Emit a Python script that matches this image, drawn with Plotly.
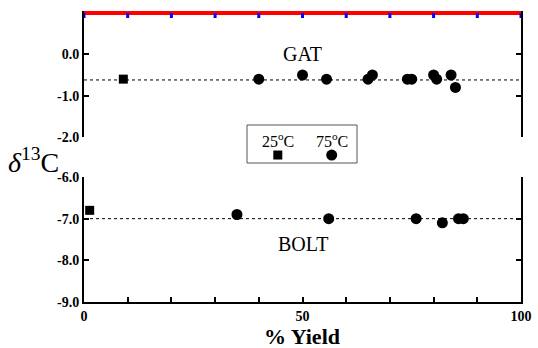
import plotly.graph_objects as go

# ---- data ----
gat_25_x = [9]
gat_25_y = [-0.6]
gat_75_x = [40, 50, 55.5, 65, 66, 74, 75, 80, 80.7, 84, 85]
gat_75_y = [-0.6, -0.5, -0.6, -0.6, -0.5, -0.6, -0.6, -0.5, -0.6, -0.5, -0.8]
gat_mean = -0.62

bolt_25_x = [1.3]
bolt_25_y = [-6.8]
bolt_75_x = [35, 56, 76, 82, 85.7, 86.8]
bolt_75_y = [-6.9, -7.0, -7.0, -7.1, -7.0, -7.0]
bolt_mean = -7.0

x_range = [0, 100]
x_tickvals = [0, 10, 20, 30, 40, 50, 60, 70, 80, 90, 100]
x_ticktext = ["0", "", "", "", "", "50", "", "", "", "", "100"]
top_ticktext = [""] * 11
gat_tickvals = [0, -1, -2]
gat_ticktext = ["0.0", "-1.0", "-2.0"]
bolt_tickvals = [-6, -7, -8, -9]
bolt_ticktext = ["-6.0", "-7.0", "-8.0", "-9.0"]

FONT = "Liberation Serif"
W, H = 538, 348

def px_x(p):
    return p / W

def px_y(p):
    return 1 - p / H

fig = go.Figure()

line_style = dict(color="black", width=1, dash="3px,3px")
sq = dict(symbol="square", size=9, color="black")
ci = dict(symbol="circle", size=11, color="black")

fig.add_trace(go.Scatter(x=x_range, y=[gat_mean, gat_mean], mode="lines", line=line_style,
                         xaxis="x", yaxis="y", showlegend=False, hoverinfo="skip"))
fig.add_trace(go.Scatter(x=gat_25_x, y=gat_25_y, mode="markers", marker=sq,
                         xaxis="x", yaxis="y", showlegend=False))
fig.add_trace(go.Scatter(x=gat_75_x, y=gat_75_y, mode="markers", marker=ci,
                         xaxis="x", yaxis="y", showlegend=False))
fig.add_trace(go.Scatter(x=x_range, y=[bolt_mean, bolt_mean], mode="lines", line=line_style,
                         xaxis="x2", yaxis="y2", showlegend=False, hoverinfo="skip"))
fig.add_trace(go.Scatter(x=bolt_25_x, y=bolt_25_y, mode="markers", marker=sq,
                         xaxis="x2", yaxis="y2", showlegend=False))
fig.add_trace(go.Scatter(x=bolt_75_x, y=bolt_75_y, mode="markers", marker=ci,
                         xaxis="x2", yaxis="y2", showlegend=False))
fig.add_trace(go.Scatter(x=[0.56], y=[0.42], mode="markers", marker=sq,
                         xaxis="x3", yaxis="y3", showlegend=False))
fig.add_trace(go.Scatter(x=[1.54], y=[0.42], mode="markers", marker=ci,
                         xaxis="x3", yaxis="y3", showlegend=False))

xdom = [px_x(84), px_x(521)]
tickfont = dict(family=FONT, size=14, color="black", weight="bold")
common_x = dict(range=x_range, domain=xdom, tickvals=x_tickvals,
                ticks="inside", ticklen=5, tickwidth=1.5, tickcolor="black", showline=True,
                linewidth=2, linecolor="black", showgrid=False, zeroline=False,
                tickfont=tickfont, automargin=False)
common_y = dict(ticks="inside", ticklen=5, tickwidth=1.5, tickcolor="black", showline=True,
                linewidth=2, linecolor="black", showgrid=False, zeroline=False, mirror="ticks",
                tickfont=tickfont, automargin=False)
blank = dict(range=[0, 2], showline=False, ticks="", showticklabels=False, showgrid=False,
             zeroline=False, automargin=False)

def ann(text, x, y, xref, yref, size):
    return dict(text=text, x=x, y=y, xref=xref, yref=yref, showarrow=False,
                xanchor="center", yanchor="middle",
                font=dict(family=FONT, size=size, color="black"))

shapes = [dict(type="rect", xref="paper", yref="paper",
               x0=px_x(247), x1=px_x(357), y0=px_y(163), y1=px_y(125),
               line=dict(color="#555", width=1)),
          dict(type="line", xref="x domain", yref="y domain", x0=0, x1=1, y0=1, y1=1,
               line=dict(color="red", width=4))]
for v in x_tickvals:
    shapes.append(dict(type="line", xref="x", yref="y domain", x0=v, x1=v,
                       y0=1, y1=1 - 5 / 124, line=dict(color="blue", width=3)))

fig.update_layout(
    template="none",
    width=W, height=H, autosize=False,
    margin=dict(l=0, r=0, t=0, b=0),
    paper_bgcolor="white", plot_bgcolor="white",
    showlegend=False,
    font=dict(family=FONT, color="black"),
    xaxis=dict(**common_x, anchor="y", side="top", ticktext=top_ticktext),
    yaxis=dict(**common_y, range=[-2, 1], domain=[px_y(137), px_y(13)], anchor="x",
               tickvals=gat_tickvals, ticktext=gat_ticktext),
    xaxis2=dict(**common_x, anchor="y2", side="bottom", ticktext=x_ticktext),
    yaxis2=dict(**common_y, range=[-9, -6], domain=[px_y(302), px_y(177)], anchor="x2",
                tickvals=bolt_tickvals, ticktext=bolt_ticktext),
    xaxis3=dict(**blank, domain=[px_x(247), px_x(357)], anchor="y3"),
    yaxis3=dict(**blank, domain=[px_y(163), px_y(125)], anchor="x3"),
    shapes=shapes,
    annotations=[
        ann("GAT", 50, 0.0, "x", "y", 20),
        ann("BOLT", 50, -7.6, "x2", "y2", 20),
        ann("25<sup>o</sup>C", 0.56, 1.2, "x3", "y3", 16),
        ann("75<sup>o</sup>C", 1.54, 1.2, "x3", "y3", 16),
        ann("<i>δ</i><sup>13</sup>C", px_x(33), px_y(160), "paper", "paper", 28),
        ann("<b>% Yield</b>", px_x(302), px_y(336), "paper", "paper", 22),
    ],
)

fig.write_html("out.html", config={"displayModeBar": False},
               post_script="document.body.style.margin='0';")
